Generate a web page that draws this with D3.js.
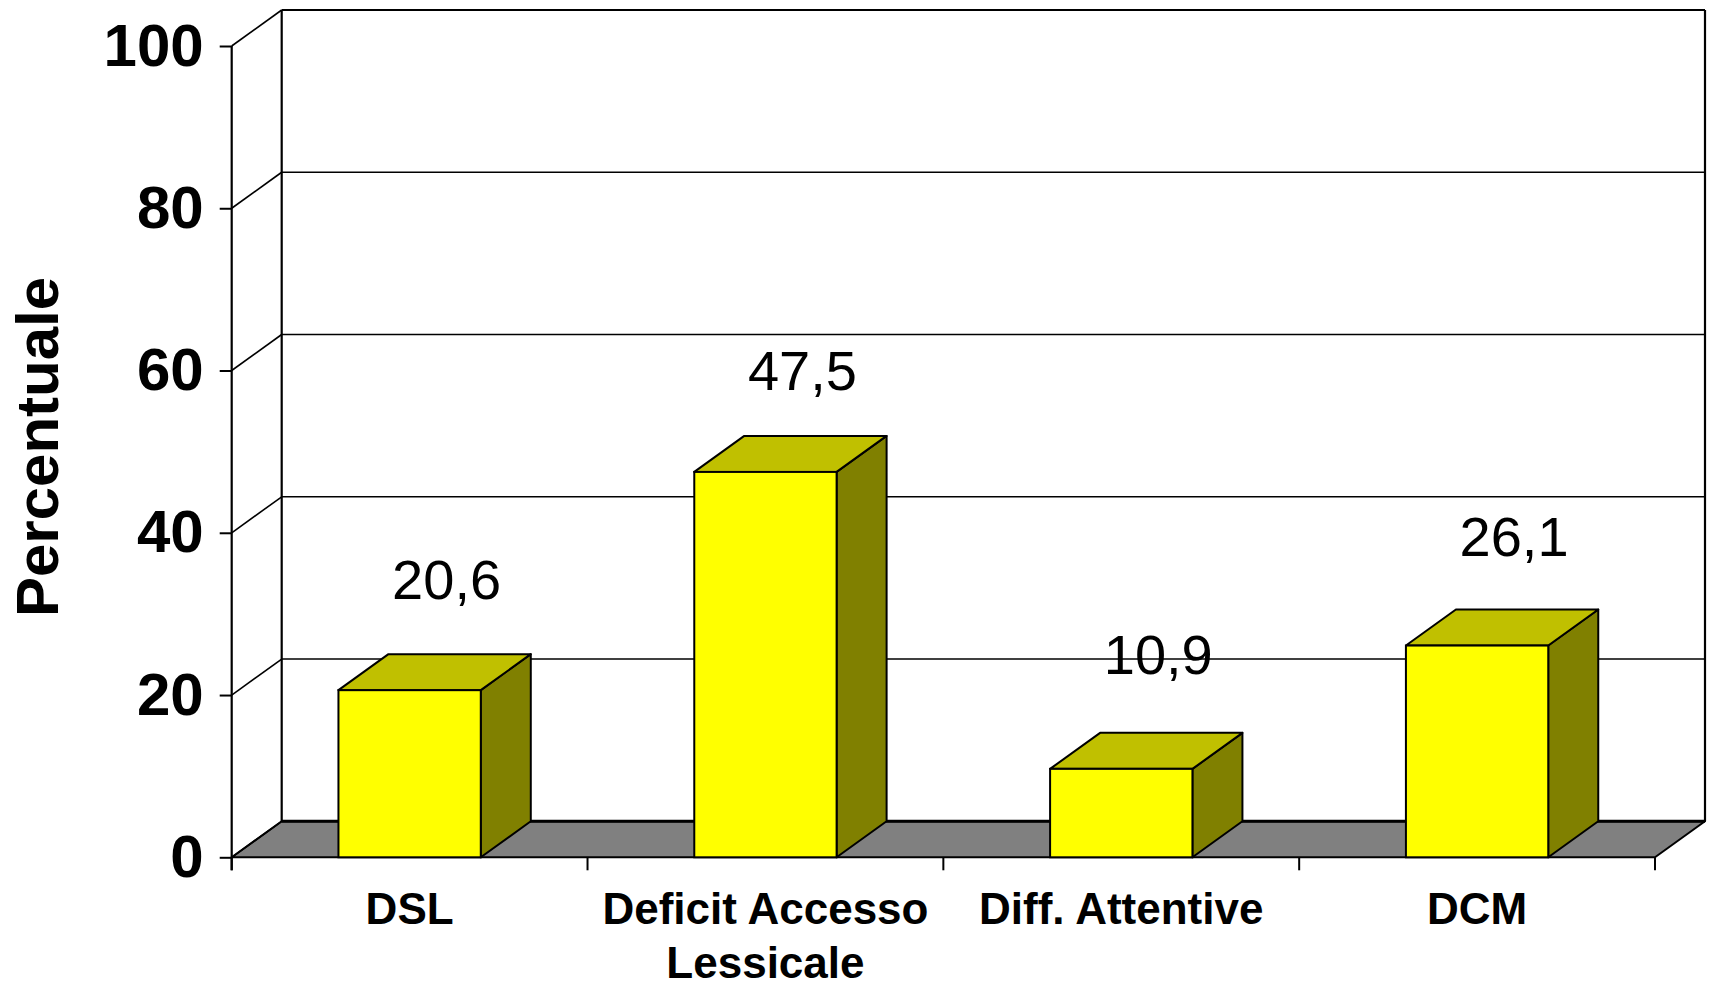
<!DOCTYPE html>
<html>
<head>
<meta charset="utf-8">
<script src="https://cdn.jsdelivr.net/npm/d3@7"></script>
<style>
  html, body { margin: 0; padding: 0; background: #fff; }
  svg { display: block; }
  text { font-family: Arial, "Liberation Sans", sans-serif; }
</style>
</head>
<body>
<script>
// ---- data ----
const categories = ["DSL", "Deficit Accesso Lessicale", "Diff. Attentive", "DCM"];
const categoryLines = [["DSL"], ["Deficit Accesso", "Lessicale"], ["Diff. Attentive"], ["DCM"]];
const values = [20.6, 47.5, 10.9, 26.1];
const yTicks = [0, 20, 40, 60, 80, 100];
const yTitle = "Percentuale";

// ---- layout ----
const W = 1711, H = 988;
const DX = 50, DY = -36; // 3D depth offset
const fmt = d3.formatLocale({decimal: ",", thousands: ".", grouping: [3], currency: ["", "€"]}).format(".1f");

const svg = d3.select("body").append("svg").attr("width", W).attr("height", H);

const x = d3.scaleBand().domain(categories).range([231.7, 1655]).paddingInner(0).paddingOuter(0);
const y = d3.scaleLinear().domain([0, 100]).range([857.3, 46]);
const labelY = d3.scaleLinear().domain([0, 100]).range([759, -17]);
const x0 = x.range()[0], x1 = x.range()[1];
const bw = x.bandwidth() * 0.4;

// floor
svg.append("path")
  .attr("d", `M${x0},${y(0)} L${x1},${y(0)} L${x1 + DX},${y(0) + DY} L${x0 + DX},${y(0) + DY} Z`)
  .attr("fill", "#808080").attr("stroke", "#000").attr("stroke-width", 2).attr("stroke-linejoin", "round");
svg.append("line")
  .attr("x1", x0 + DX).attr("x2", x1 + DX).attr("y1", y(0) + DY).attr("y2", y(0) + DY)
  .attr("stroke", "#000").attr("stroke-width", 3);

// back wall gridlines
svg.append("g").selectAll("line").data(yTicks.filter(t => t > 0)).join("line")
  .attr("x1", x0 + DX).attr("x2", x1 + DX)
  .attr("y1", d => y(d) + DY).attr("y2", d => y(d) + DY)
  .attr("stroke", "#000").attr("stroke-width", d => d === 100 ? 2.2 : 1.6);

// left wall diagonals
svg.append("g").selectAll("line").data(yTicks).join("line")
  .attr("x1", x0).attr("x2", x0 + DX)
  .attr("y1", d => y(d)).attr("y2", d => y(d) + DY)
  .attr("stroke", "#000").attr("stroke-width", 1.6);

// back wall verticals
svg.append("line").attr("x1", x0 + DX).attr("x2", x0 + DX).attr("y1", y(100) + DY).attr("y2", y(0) + DY)
  .attr("stroke", "#000").attr("stroke-width", 2.2);
svg.append("line").attr("x1", x1 + DX).attr("x2", x1 + DX).attr("y1", y(100) + DY).attr("y2", y(0) + DY)
  .attr("stroke", "#000").attr("stroke-width", 2.2);

// y axis
const yAxis = svg.append("g").attr("transform", `translate(${x0},0)`)
  .call(d3.axisLeft(y).tickValues(yTicks).tickSize(12).tickSizeOuter(0).tickPadding(16));
yAxis.select(".domain").remove();
yAxis.selectAll(".tick line").attr("stroke", "#000").attr("stroke-width", 2);
yAxis.selectAll(".tick text").attr("font-size", 60).attr("font-weight", "bold").attr("fill", "#000")
  .attr("font-family", 'Arial, "Liberation Sans", sans-serif');
svg.append("line").attr("x1", x0).attr("x2", x0).attr("y1", y(100)).attr("y2", y(0) + 13)
  .attr("stroke", "#000").attr("stroke-width", 2.2);

// x axis boundary ticks
const bounds = categories.map(c => x(c)).concat([x1]);
svg.append("g").selectAll("line").data(bounds).join("line")
  .attr("x1", d => d).attr("x2", d => d).attr("y1", y(0)).attr("y2", y(0) + 13)
  .attr("stroke", "#000").attr("stroke-width", 2);

// bars
const bars = svg.append("g").selectAll("g").data(categories.map((c, i) => ({c, v: values[i]}))).join("g");
bars.each(function(d) {
  const g = d3.select(this);
  const L = x(d.c) + (x.bandwidth() - bw) / 2, R = L + bw;
  const T = y(d.v), B = y(0);
  g.append("path").attr("d", `M${R},${T} L${R + DX},${T + DY} L${R + DX},${B + DY} L${R},${B} Z`)
    .attr("fill", "#808000").attr("stroke", "#000").attr("stroke-width", 2).attr("stroke-linejoin", "round");
  g.append("path").attr("d", `M${L},${T} L${L + DX},${T + DY} L${R + DX},${T + DY} L${R},${T} Z`)
    .attr("fill", "#C0C000").attr("stroke", "#000").attr("stroke-width", 2).attr("stroke-linejoin", "round");
  g.append("rect").attr("x", L).attr("y", T).attr("width", bw).attr("height", B - T)
    .attr("fill", "#FFFF00").attr("stroke", "#000").attr("stroke-width", 2);
});

// value labels
svg.append("g").selectAll("text").data(categories.map((c, i) => ({c, v: values[i]}))).join("text")
  .attr("x", d => x(d.c) + x.bandwidth() / 2 + 37)
  .attr("y", d => labelY(d.v))
  .attr("text-anchor", "middle").attr("font-size", 56).attr("fill", "#000")
  .text(d => fmt(d.v));

// category labels
const cl = svg.append("g").selectAll("text").data(categories.map((c, i) => ({c, lines: categoryLines[i]}))).join("text")
  .attr("text-anchor", "middle").attr("font-size", 44).attr("font-weight", "bold").attr("fill", "#000");
cl.each(function(d) {
  const t = d3.select(this);
  d.lines.forEach((ln, j) => {
    t.append("tspan").attr("x", x(d.c) + x.bandwidth() / 2).attr("y", 924 + j * 54).text(ln);
  });
});

// y title
svg.append("text")
  .attr("transform", `translate(58,447) rotate(-90)`)
  .attr("text-anchor", "middle").attr("font-size", 60).attr("font-weight", "bold").attr("fill", "#000")
  .text(yTitle);
</script>
</body>
</html>
